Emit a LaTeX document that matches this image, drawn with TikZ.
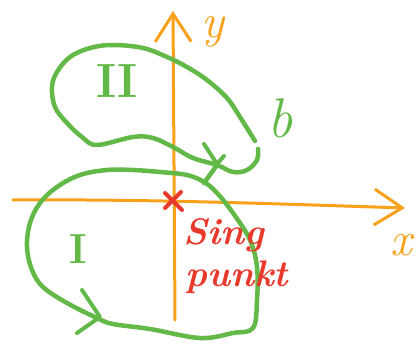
\documentclass[tikz,border=0pt]{standalone}
\usepackage{xcolor}
\usepackage{tikz}
\usetikzlibrary{
  arrows.meta,
  positioning,
  calc
}
\definecolor{skAxis}{HTML}{F9A11B}
\definecolor{skCurve}{HTML}{62B947}
\definecolor{skMark}{HTML}{E8392B}
\tikzset{
  axisline/.style={line width=3pt, skAxis, line cap=round,
    -{Straight Barb[length=28pt, width=36pt]}},
  curveline/.style={line width=4.5pt, skCurve, line cap=round, line join=round},
  chevron/.style={curveline, line width=4pt},
  sinmark/.style={line width=4pt, skMark, line cap=round},
  axislabel/.style={font=\fontsize{48}{52}\selectfont\itshape, text=skAxis, inner sep=0pt},
  regionlabel/.style={font=\fontsize{48}{52}\selectfont\bfseries, text=skCurve, inner sep=0pt},
  tag/.style={font=\fontsize{37}{42}\selectfont\itshape\bfseries, text=skMark, align=left, inner sep=0pt}
}
\begin{document}
\begin{tikzpicture}[x=1pt, y=-1pt]
  \useasboundingbox (0,0) rectangle (420,347);
  % axes
  \coordinate (xstart) at (13,200);
  \coordinate (xend) at (405,208);
  \coordinate (ystart) at (175,320);
  \coordinate (yend) at (173,11);
  \draw[axisline] (xstart) .. controls (150,199) and (280,204) .. (xend);
  \draw[axisline] (ystart) -- (yend);
  \node[axislabel] (ylab) at (213,32) {y};
  \node[axislabel] (xlab) at (401,245) {x};
  % loop II
  \draw[curveline] plot[smooth, tension=0.6] coordinates {
    (255,141) (240,117) (227,98) (207,80) (187,67) (167,57) (143,48)
    (113,45) (90,48) (70,57) (57,72) (52,87) (55,107) (67,123) (82,137)
    (97,145) (133,137) (153,138) (173,147) (193,158) (217,165) (233,172)
    (247,170) (257,160) (258,149)};
  \draw[chevron] (204,144) -- (217,164) -- (224,156);
  % link between the loops
  \draw[curveline] (217,165) -- (204,183);
  % loop I
  \draw[curveline] plot[smooth cycle, tension=0.6] coordinates {
    (204,182) (187,175) (160,172) (133,170) (107,170) (80,175) (57,187)
    (40,203) (30,223) (27,247) (32,270) (43,287) (67,303) (97,318)
    (113,324) (150,329) (200,338) (233,333) (253,328) (257,300)
    (257,267) (250,240) (233,213) (217,193)};
  \draw[chevron] (82,290) -- (100,317) -- (77,333);
  \node[regionlabel] (lab2) at (117,81) {II};
  \node[regionlabel, font=\fontsize{42}{46}\selectfont\bfseries] (lab1) at (78,249) {I};
  \node[regionlabel, font=\fontsize{56}{60}\selectfont\itshape] (labb) at (280,118) {b};
  % singular point
  \coordinate (sing) at (173,201);
  \draw[sinmark] ($(sing)+(-8,-8)$) -- ($(sing)+(9,9)$);
  \draw[sinmark] ($(sing)+(8,-9)$) -- ($(sing)+(-8,7)$);
  \node[tag, anchor=north west] (singlab) at (183,218) {Sing\\\hspace*{2pt}punkt};
\end{tikzpicture}
\end{document}
